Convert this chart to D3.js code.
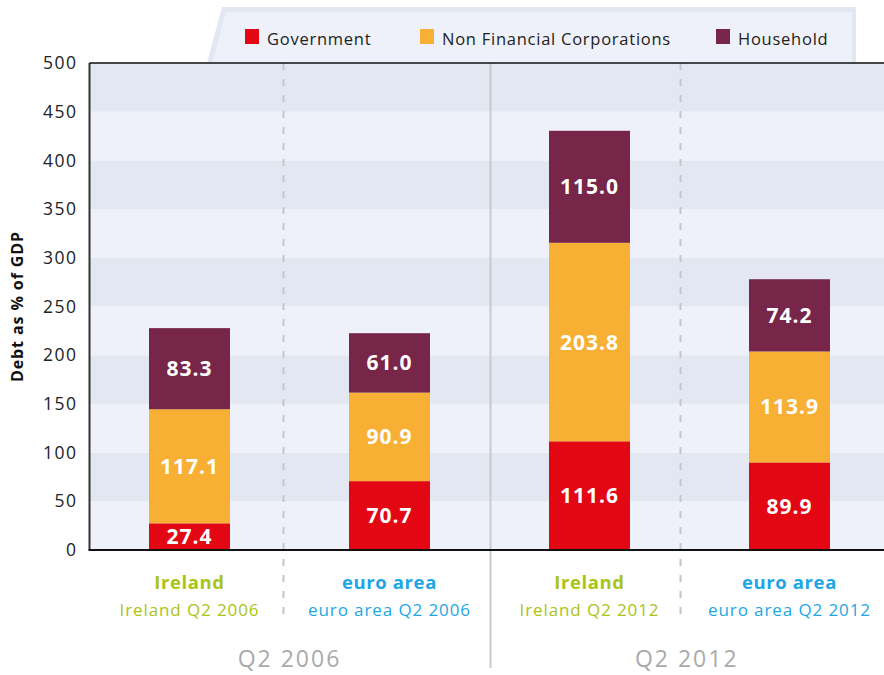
<!DOCTYPE html>
<html><head><meta charset="utf-8">
<script src="https://cdn.jsdelivr.net/npm/d3@7"></script>
<style>
html,body{margin:0;padding:0;background:#fff;}
svg{display:block;font-family:"Open Sans",sans-serif;}
</style></head>
<body>
<svg id="chart" width="884" height="675"></svg>
<script>
const categories = ["Ireland Q2 2006","euro area Q2 2006","Ireland Q2 2012","euro area Q2 2012"];
const catTitles = ["Ireland","euro area","Ireland","euro area"];
const periods = ["Q2 2006","Q2 2012"];
const seriesNames = ["Government","Non Financial Corporations","Household"];
const government = [27.4, 70.7, 111.6, 89.9];
const nonFinancial = [117.1, 90.9, 203.8, 113.9];
const household = [83.3, 61.0, 115.0, 74.2];
const yTicks = [0,50,100,150,200,250,300,350,400,450,500];
const colors = ["#e30613","#f7b033","#772649"];
const catColors = ["#a9c414","#1ea6e2","#a9c414","#1ea6e2"];

const svg = d3.select("#chart");
const L = 89.5, R = 889.5, T = 63, B = 550;

const y = d3.scaleLinear().domain([0,500]).range([B,T]);
const x = d3.scaleBand().domain(categories).range([L,R]).paddingInner(0).paddingOuter(0);
const bw = 81;

// background bands
const bands = d3.range(0,500,50);
svg.append("g").selectAll("rect").data(bands).join("rect")
  .attr("x", L).attr("width", 884 - L)
  .attr("y", d => y(d+50)).attr("height", d => y(d) - y(d+50))
  .attr("fill", d => (d/50)%2 === 0 ? "#eef1f9" : "#e3e7f2");

// legend box (slanted)
svg.append("path")
  .attr("d","M207,63 L222,7 L856,7 L856,63 Z")
  .attr("fill","#e3e7f2");
svg.append("path")
  .attr("d","M212,63 L226,12 L852,12 L852,63 Z")
  .attr("fill","#eef1f9");

const legX = [245, 420, 716];
const lg = svg.append("g").selectAll("g").data(seriesNames).join("g")
  .attr("transform",(d,i)=>`translate(${legX[i]},29)`);
lg.append("rect").attr("width",14).attr("height",15).attr("fill",(d,i)=>colors[i]);
lg.append("text").attr("x",22).attr("y",15.5).attr("font-size",16.5).attr("letter-spacing",0.75)
  .attr("fill","#222").text(d=>d);

// dividers
const dashX = [x(categories[1]) - 6, x(categories[3]) - 9];
svg.append("g").selectAll("line").data(dashX).join("line")
  .attr("x1",d=>d).attr("x2",d=>d).attr("y1",T).attr("y2",622)
  .attr("stroke","#c4c6cc").attr("stroke-width",2).attr("stroke-dasharray","7,9");
const solidX = x(categories[2]) + 1;
svg.append("line").attr("x1",solidX).attr("x2",solidX).attr("y1",T).attr("y2",668)
  .attr("stroke","#c8cad0").attr("stroke-width",2);

// stacked bars
const rows = categories.map((c,i)=>({cat:c, Government:government[i], "Non Financial Corporations":nonFinancial[i], Household:household[i]}));
const stack = d3.stack().keys(seriesNames)(rows);
const gBars = svg.append("g");
stack.forEach((s,si)=>{
  gBars.append("g").selectAll("rect").data(s).join("rect")
    .attr("x", d => x(d.data.cat) + x.bandwidth()/2 - bw/2)
    .attr("width", bw)
    .attr("y", d => y(d[1]))
    .attr("height", d => y(d[0]) - y(d[1]))
    .attr("fill", colors[si]);
  gBars.append("g").selectAll("text").data(s).join("text")
    .attr("x", d => x(d.data.cat) + x.bandwidth()/2)
    .attr("y", d => (y(d[0]) + y(d[1]))/2 + 7.5)
    .attr("text-anchor","middle")
    .attr("font-size",21).attr("font-weight","bold").attr("fill","#fff")
    .attr("letter-spacing","1")
    .text(d => (d[1]-d[0]).toFixed(1));
});

// axes lines
svg.append("line").attr("x1",L).attr("x2",L).attr("y1",T).attr("y2",B)
  .attr("stroke","#333").attr("stroke-width",2);
svg.append("line").attr("x1",L-1).attr("x2",884).attr("y1",B).attr("y2",B)
  .attr("stroke","#111").attr("stroke-width",2);
svg.append("line").attr("x1",L).attr("x2",884).attr("y1",T).attr("y2",T)
  .attr("stroke","#111").attr("stroke-width",1.5);

// y axis
const yAxis = d3.axisLeft(y).tickValues(yTicks).tickSize(0).tickPadding(12);
const ya = svg.append("g").attr("transform",`translate(${L},0)`).call(yAxis);
ya.select(".domain").remove();
ya.selectAll("text").attr("font-size",17.5).attr("fill","#222").attr("letter-spacing",1.5)
  .attr("font-family","Open Sans, sans-serif");

svg.append("text").attr("transform",`translate(23,${(T+B)/2}) rotate(-90)`)
  .attr("text-anchor","middle").attr("font-size",16).attr("font-weight","bold").attr("fill","#111")
  .attr("letter-spacing",0.9)
  .text("Debt as % of GDP");

// category labels
const cg = svg.append("g").selectAll("g").data(categories).join("g")
  .attr("transform",(d)=>`translate(${x(d)+x.bandwidth()/2},0)`);
cg.append("text").attr("y",589).attr("text-anchor","middle").attr("font-size",18.5).attr("font-weight","bold")
  .attr("letter-spacing",0.6)
  .attr("fill",(d,i)=>catColors[i]).text((d,i)=>catTitles[i]);
cg.append("text").attr("y",616).attr("text-anchor","middle").attr("font-size",17).attr("letter-spacing",0.9)
  .attr("fill",(d,i)=>catColors[i]).text(d=>d);

// period labels
const periodX = [ (x(categories[0]) + x(categories[1]) + x.bandwidth())/2, (x(categories[2]) + 884)/2 ];
svg.append("g").selectAll("text").data(periods).join("text")
  .attr("x",(d,i)=>periodX[i]).attr("y",667).attr("text-anchor","middle")
  .attr("font-size",23).attr("letter-spacing",2).attr("fill","#aaaaaa").text(d=>d);
</script>
</body></html>
